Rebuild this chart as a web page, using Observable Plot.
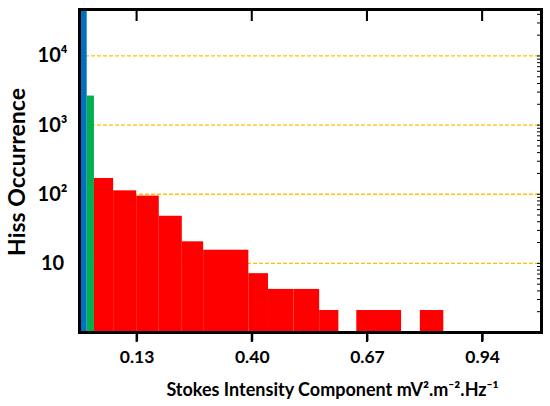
<!DOCTYPE html>
<html><head><meta charset="utf-8">
<script src="https://cdn.jsdelivr.net/npm/d3@7"></script>
<script src="https://cdn.jsdelivr.net/npm/@observablehq/plot@0.6"></script>
<style>body{margin:0;background:#fff}</style>
</head><body><div id="chart"></div>
<script>
const xTicks = [0.13, 0.40, 0.67, 0.94];
const yTicks = [10, 100, 1000, 10000];
const yTickLabels = ["10", "10²", "10³", "10⁴"];
const yTitle = "Hiss Occurrence";
const xTitle = "Stokes Intensity Component mV².m⁻².Hz⁻¹";

const blueStart = [-0.005], blueEnd = [0.013], blueCount = [60000];
const greenStart = [0.013], greenEnd = [0.030], greenCount = [2630];
const redStart = [0.030, 0.075, 0.129, 0.182, 0.236, 0.286, 0.392, 0.438, 0.498, 0.558, 0.645, 0.794];
const redEnd   = [0.075, 0.129, 0.182, 0.236, 0.286, 0.392, 0.438, 0.498, 0.558, 0.603, 0.750, 0.849];
const redCount = [169, 112, 94, 48, 20.5, 15.5, 7.1, 4.2, 4.2, 2.08, 2.08, 2.08];

const toRows = (s, e, c) => s.map((v, i) => ({x1: v, x2: e[i], count: c[i]}));
const blue = toRows(blueStart, blueEnd, blueCount);
const green = toRows(greenStart, greenEnd, greenCount);
const red = toRows(redStart, redEnd, redCount);

const font = "Lato, 'Open Sans', sans-serif";
const chart = Plot.plot({
  width: 550, height: 406,
  marginLeft: 79, marginRight: 9, marginTop: 9, marginBottom: 74,
  style: {fontFamily: font, fontWeight: "bold", background: "white", overflow: "visible", color: "black"},
  x: {domain: [-0.005, 1.078]},
  y: {type: "log", domain: [1, 47000]},
  marks: [
    Plot.ruleY(yTicks, {stroke: "#FFC000", strokeWidth: 1.3, strokeDasharray: "4,2"}),
    Plot.rect(blue, {x1: "x1", x2: "x2", y1: 1, y2: "count", fill: "#0070C0", clip: true}),
    Plot.rect(green, {x1: "x1", x2: "x2", y1: 1, y2: "count", fill: "#00B050"}),
    Plot.rect(red, {x1: "x1", x2: "x2", y1: 1, y2: "count", fill: "#FF0000"}),
    Plot.frame({stroke: "black", strokeWidth: 3}),
    // top inward tick marks and bottom outward tick marks
    Plot.rect(xTicks, {x1: d => d - 0.0024, x2: d => d + 0.0024, insetBottom: 311, fill: "black"}),
    Plot.rect(xTicks, {x1: d => d - 0.0024, x2: d => d + 0.0024, insetTop: 323, insetBottom: -10, fill: "black"}),
    Plot.axisX({anchor: "bottom", ticks: xTicks, tickSize: 9, tickPadding: 9, strokeWidth: 2,
      tickFormat: d3.format(".2f"), fontSize: 17.5, fontWeight: "bold", label: null}),
    Plot.axisY(yTicks, {anchor: "left", tickSize: 0, tickPadding: 27, textAnchor: "middle",
      tickFormat: d => yTickLabels[yTicks.indexOf(d)], fontSize: 20, fontWeight: "bold", label: null}),
    Plot.axisY({anchor: "right", ticks: 60, tickSize: 5, dx: -5, strokeWidth: 1, fill: "none", label: null}),
    Plot.text([yTitle], {frameAnchor: "left", rotate: -90, dx: -62, dy: 1, textAnchor: "middle", lineAnchor: "middle",
      fontSize: 23, fontWeight: "bold", fill: "black"}),
    Plot.text([xTitle], {frameAnchor: "bottom", dx: 22, dy: 58, lineAnchor: "middle",
      fontSize: 18, fontWeight: "bold", fill: "black"})
  ]
});
document.getElementById("chart").appendChild(chart);
</script>
</body></html>
